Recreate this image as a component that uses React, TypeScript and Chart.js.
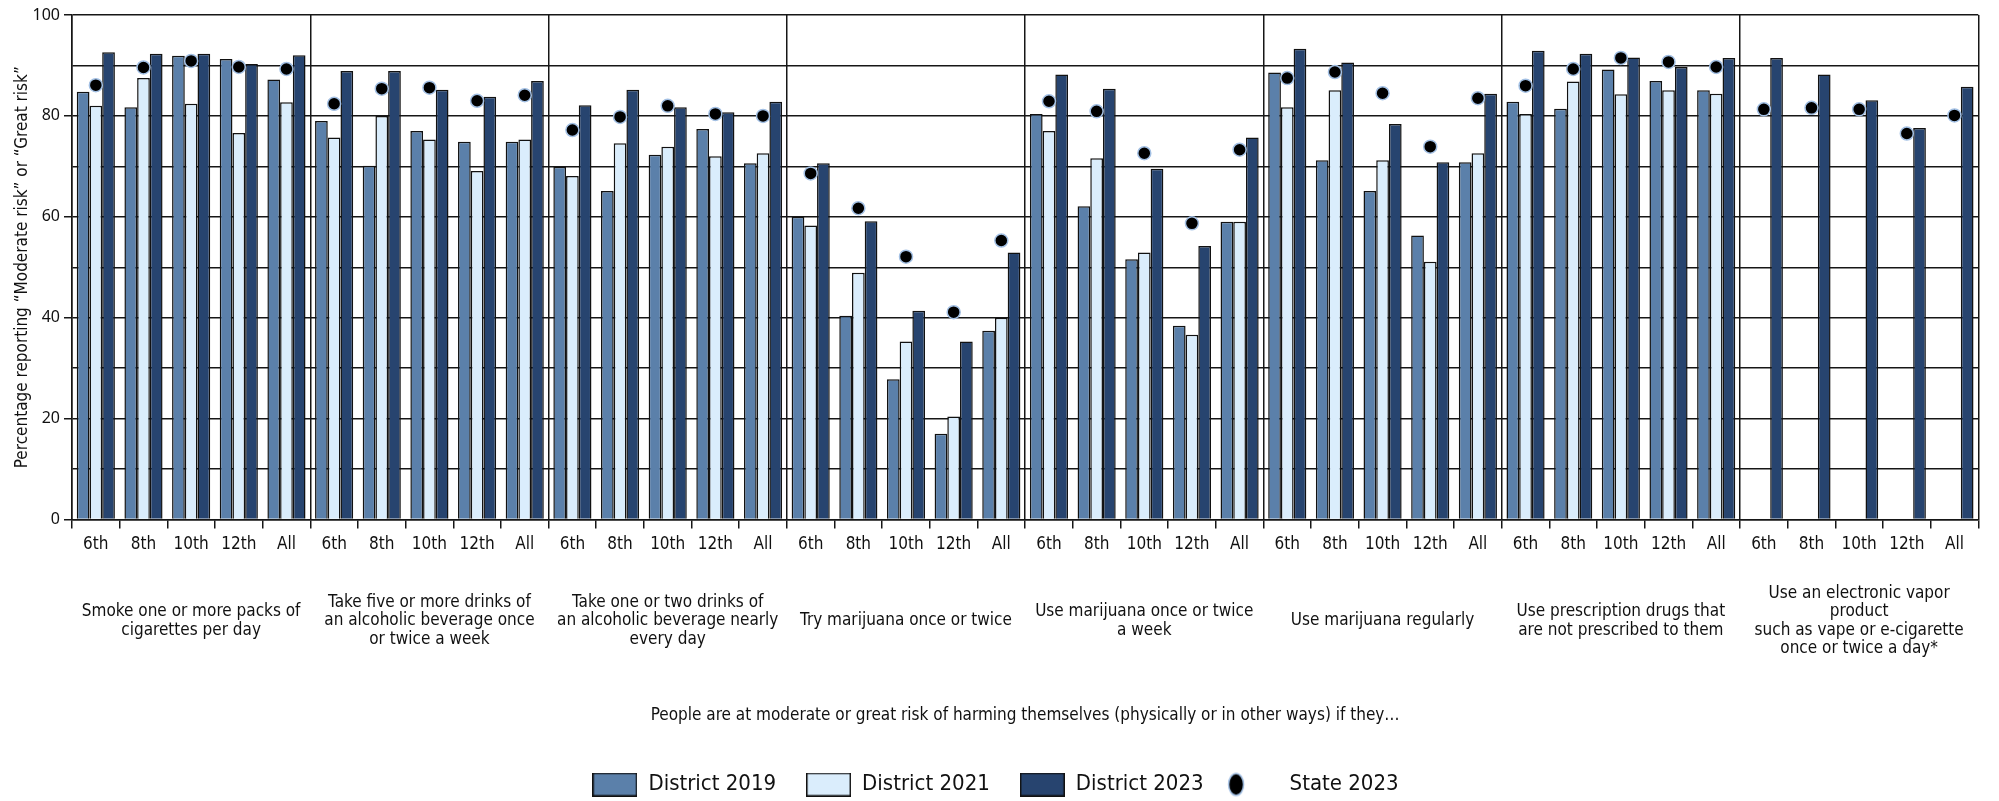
import React, { useEffect, useRef } from 'react';
import { Chart, registerables } from 'chart.js';

Chart.register(...registerables);

// ---------- data ----------
const GRADES = ['6th', '8th', '10th', '12th', 'All'];

const BEHAVIORS: string[][] = [
  ['Smoke one or more packs of', 'cigarettes per day'],
  ['Take five or more drinks of', 'an alcoholic beverage once', 'or twice a week'],
  ['Take one or two drinks of', 'an alcoholic beverage nearly', 'every day'],
  ['Try marijuana once or twice'],
  ['Use marijuana once or twice', 'a week'],
  ['Use marijuana regularly'],
  ['Use prescription drugs that', 'are not prescribed to them'],
  ['Use an electronic vapor', 'product', 'such as vape or e-cigarette', 'once or twice a day*'],
];

const SERIES_NAMES = ['District 2019', 'District 2021', 'District 2023', 'State 2023'];

const DISTRICT_2019 = [
  84.8, 81.7, 91.9, 91.3, 87.2,
  79.0, 70.1, 77.0, 74.9, 74.9,
  69.9, 65.1, 72.3, 77.4, 70.6,
  60.0, 40.4, 27.8, 17.0, 37.4,
  80.4, 62.1, 51.6, 38.4, 59.0,
  88.6, 71.2, 65.1, 56.3, 70.8,
  82.8, 81.4, 89.2, 86.9, 85.1,
  null, null, null, null, null,
];

const DISTRICT_2021 = [
  82.0, 87.5, 82.4, 76.6, 82.7,
  75.7, 80.0, 75.3, 69.1, 75.3,
  68.1, 74.6, 73.9, 72.0, 72.6,
  58.3, 48.9, 35.3, 20.4, 40.0,
  77.0, 71.6, 52.9, 36.6, 59.0,
  81.7, 85.1, 71.2, 51.1, 72.6,
  80.4, 86.8, 84.3, 85.1, 84.4,
  null, null, null, null, null,
];

const DISTRICT_2023 = [
  92.6, 92.3, 92.3, 90.3, 92.0,
  88.9, 88.9, 85.2, 83.8, 86.9,
  82.1, 85.2, 81.7, 80.7, 82.8,
  70.6, 59.1, 41.4, 35.3, 52.9,
  88.2, 85.4, 69.5, 54.2, 75.7,
  93.3, 90.6, 78.4, 70.8, 84.4,
  92.9, 92.3, 91.6, 89.7, 91.5,
  91.5, 88.2, 83.1, 77.6, 85.8,
];

const STATE_2023 = [
  86.1, 89.6, 90.9, 89.7, 89.3,
  82.4, 85.4, 85.6, 83.0, 84.1,
  77.2, 79.8, 82.0, 80.4, 80.0,
  68.6, 61.7, 52.1, 41.1, 55.3,
  82.9, 80.9, 72.6, 58.7, 73.3,
  87.5, 88.7, 84.5, 73.9, 83.5,
  86.0, 89.3, 91.5, 90.7, 89.7,
  81.3, 81.6, 81.3, 76.5, 80.1,
];

const Y_TICKS = [0, 20, 40, 60, 80, 100];
const Y_TITLE = 'Percentage reporting \u201CModerate risk\u201D or \u201CGreat risk\u201D';
const X_TITLE = 'People are at moderate or great risk of harming themselves (physically or in other ways) if they\u2026';

// ---------- styles ----------
const C19 = '#5b80aa';
const C21 = '#daedfc';
const C23 = '#27446f';
const DOT = '#000000';
const DOT_RING = '#a3c0e4';
const LINE = '#161616';
const NARROW = "'Liberation Sans Narrow', 'DejaVu Sans Condensed', 'Arial Narrow', sans-serif";
const REG = "'Noto Sans', 'DejaVu Sans', sans-serif";

function boxImage(fill: string): HTMLCanvasElement {
  const c = document.createElement('canvas');
  c.width = 45;
  c.height = 24;
  const g = c.getContext('2d')!;
  g.fillStyle = fill;
  g.fillRect(0, 0, 45, 24);
  g.strokeStyle = '#111';
  g.lineWidth = 1.5;
  g.strokeRect(0.75, 0.75, 43.5, 22.5);
  return c;
}

function dotImage(): HTMLCanvasElement {
  // wide transparent image with the marker placed toward its left side
  const c = document.createElement('canvas');
  c.width = 60;
  c.height = 26;
  const g = c.getContext('2d')!;
  g.beginPath();
  g.ellipse(10, 13, 7.5, 11, 0, 0, Math.PI * 2);
  g.fillStyle = DOT;
  g.fill();
  g.lineWidth = 1.5;
  g.strokeStyle = DOT_RING;
  g.stroke();
  return c;
}

export default function App() {
  const ref = useRef<HTMLCanvasElement>(null);

  useEffect(() => {
    document.body.style.margin = '0';
    const canvas = ref.current;
    if (!canvas) return;

    const labels = BEHAVIORS.flatMap(() => GRADES);
    const legendImgs = [boxImage(C19), boxImage(C21), boxImage(C23), dotImage()];

    const barBase = {
      type: 'bar' as const,
      borderColor: '#111',
      borderWidth: 1.5,
      categoryPercentage: 0.8,
      barPercentage: 1.0,
      order: 1,
    };

    const chart = new Chart(canvas, {
      type: 'bar',
      data: {
        labels,
        datasets: [
          { ...barBase, label: SERIES_NAMES[0], data: DISTRICT_2019, backgroundColor: C19 },
          { ...barBase, label: SERIES_NAMES[1], data: DISTRICT_2021, backgroundColor: C21 },
          { ...barBase, label: SERIES_NAMES[2], data: DISTRICT_2023, backgroundColor: C23 },
          {
            type: 'line' as const,
            label: SERIES_NAMES[3],
            data: STATE_2023,
            showLine: false,
            pointStyle: 'circle',
            pointRadius: 6.5,
            pointBorderWidth: 1.5,
            pointBackgroundColor: DOT,
            pointBorderColor: DOT_RING,
            backgroundColor: DOT,
            borderColor: DOT_RING,
            order: 0,
          },
        ] as any,
      },
      options: {
        responsive: false,
        animation: false,
        devicePixelRatio: 1,
        events: [],
        layout: { padding: { top: 15, left: 0, right: 8, bottom: -4.5 } },
        plugins: {
          tooltip: { enabled: false },
          legend: {
            position: 'bottom',
            labels: {
              usePointStyle: true,
              pointStyleWidth: 45,
              boxHeight: 24,
              padding: 30,
              color: '#111',
              font: { family: NARROW, size: 22 },
              sort: (a: any, b: any) => a.datasetIndex - b.datasetIndex,
              generateLabels: (ch: any) => {
                const items = (Chart as any).defaults.plugins.legend.labels.generateLabels(ch);
                items.forEach((it: any) => {
                  it.pointStyle = legendImgs[it.datasetIndex];
                });
                return items;
              },
            },
          },
        },
        scales: {
          x: {
            type: 'category',
            position: 'bottom',
            offset: true,
            grid: {
              offset: true,
              drawOnChartArea: true,
              lineWidth: 1.5,
              color: (ctx: any) =>
                ctx.index === undefined || ctx.index % GRADES.length === 0 ? LINE : 'rgba(0,0,0,0)',
              tickLength: 9,
              tickColor: LINE,
              tickWidth: 1.5,
            },
            border: { display: true, color: LINE, width: 1.5 },
            ticks: {
              autoSkip: false,
              maxRotation: 0,
              padding: 7,
              color: '#111',
              font: { family: NARROW, size: 17, lineHeight: 1.1 },
            },
            afterFit: (s: any) => {
              s.height = 40;
            },
          },
          x2: {
            type: 'category',
            position: 'bottom',
            labels: BEHAVIORS as any,
            offset: true,
            grid: { display: false, drawTicks: false, tickLength: 0 },
            border: { display: false },
            ticks: {
              autoSkip: false,
              maxRotation: 0,
              padding: 34,
              crossAlign: 'center',
              color: '#111',
              font: { family: NARROW, size: 17, lineHeight: 1.08 },
            },
            title: {
              display: true,
              text: X_TITLE,
              color: '#111',
              font: { family: NARROW, size: 17 },
              padding: { top: 0, bottom: 18 },
            },
            afterFit: (s: any) => {
              s.height = 184;
            },
          },
          y: {
            min: 0,
            max: 100,
            ticks: {
              stepSize: 10,
              padding: 4,
              color: '#111',
              font: { family: REG, size: 16 },
              callback: (v: any) => (Y_TICKS.includes(Number(v)) ? String(v) : ''),
            },
            grid: {
              color: LINE,
              lineWidth: 1.5,
              tickLength: 8,
              tickWidth: 1.5,
              tickColor: (ctx: any) =>
                ctx.tick && Y_TICKS.includes(ctx.tick.value) ? LINE : 'rgba(0,0,0,0)',
            },
            border: { display: true, color: LINE, width: 1.5 },
            title: {
              display: true,
              text: Y_TITLE,
              color: '#111',
              font: { family: NARROW, size: 17 },
              padding: { top: 12, bottom: 0 },
            },
            afterFit: (s: any) => {
              s.width = 72;
            },
          },
        },
      } as any,
    });

    return () => chart.destroy();
  }, []);

  return (
    <div style={{ width: 1999, height: 801 }}>
      <canvas ref={ref} width={1999} height={801} style={{ display: 'block' }} />
    </div>
  );
}
